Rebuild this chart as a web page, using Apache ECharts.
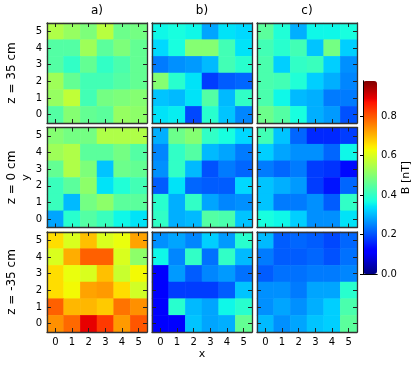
<!DOCTYPE html>
<html><head><meta charset="utf-8">
<script src="https://cdn.jsdelivr.net/npm/echarts@6/dist/echarts.min.js"></script>
<style>html,body{margin:0;padding:0;background:#fff}#c{width:415px;height:365px}</style>
</head><body><div id="c"></div>
<script>
const xCats = ['0','1','2','3','4','5'];
const yCats = ['0','1','2','3','4','5'];
const colTitles = ['a)', 'b)', 'c)'];
const rowLabels = ['z = 35 cm', 'z = 0 cm', 'z = -35 cm'];
const cbTicks = [0.0, 0.2, 0.4, 0.6, 0.8];
const cbMin = 0;
const cbMax = 0.977;
const cbLabel = 'B [nT]';
const xLabel = 'x';
const yLabel = 'y';

const z35_a = [
  [0.55,0.52,0.49,0.56,0.47,0.48],
  [0.44,0.44,0.53,0.45,0.49,0.46],
  [0.44,0.40,0.46,0.40,0.43,0.46],
  [0.53,0.46,0.42,0.42,0.44,0.46],
  [0.52,0.57,0.42,0.48,0.49,0.50],
  [0.44,0.50,0.46,0.45,0.52,0.51]
];
const z35_b = [
  [0.36,0.37,0.36,0.28,0.34,0.33],
  [0.33,0.37,0.50,0.50,0.42,0.34],
  [0.24,0.26,0.27,0.30,0.42,0.39],
  [0.50,0.39,0.34,0.18,0.21,0.22],
  [0.31,0.30,0.34,0.44,0.30,0.40],
  [0.34,0.35,0.19,0.39,0.31,0.25]
];
const z35_c = [
  [0.45,0.38,0.29,0.36,0.36,0.37],
  [0.42,0.39,0.42,0.31,0.48,0.32],
  [0.43,0.32,0.40,0.41,0.32,0.26],
  [0.43,0.42,0.38,0.32,0.29,0.25],
  [0.43,0.36,0.30,0.29,0.24,0.24],
  [0.47,0.44,0.37,0.29,0.27,0.20]
];
const z0_a = [
  [0.50,0.48,0.48,0.55,0.55,0.55],
  [0.53,0.55,0.45,0.45,0.48,0.44],
  [0.46,0.55,0.49,0.31,0.47,0.46],
  [0.41,0.45,0.51,0.34,0.38,0.42],
  [0.41,0.30,0.48,0.51,0.45,0.45],
  [0.28,0.39,0.44,0.41,0.36,0.34]
];
const z0_b = [
  [0.29,0.47,0.50,0.40,0.37,0.33],
  [0.25,0.40,0.44,0.30,0.28,0.24],
  [0.26,0.40,0.30,0.20,0.24,0.22],
  [0.21,0.34,0.22,0.21,0.21,0.33],
  [0.39,0.29,0.40,0.28,0.25,0.26],
  [0.40,0.29,0.30,0.44,0.43,0.31]
];
const z0_c = [
  [0.42,0.31,0.22,0.16,0.16,0.18],
  [0.32,0.28,0.26,0.26,0.22,0.36],
  [0.24,0.22,0.24,0.18,0.17,0.13],
  [0.31,0.29,0.27,0.18,0.14,0.22],
  [0.31,0.24,0.24,0.26,0.21,0.40],
  [0.37,0.36,0.32,0.26,0.26,0.34]
];
const zm35_a = [
  [0.66,0.60,0.69,0.60,0.62,0.72],
  [0.60,0.71,0.79,0.79,0.60,0.51],
  [0.66,0.62,0.60,0.69,0.58,0.63],
  [0.66,0.63,0.72,0.73,0.66,0.59],
  [0.79,0.70,0.70,0.68,0.77,0.74],
  [0.74,0.78,0.89,0.83,0.73,0.80]
];
const zm35_b = [
  [0.26,0.28,0.25,0.32,0.27,0.39],
  [0.36,0.25,0.40,0.23,0.40,0.30],
  [0.12,0.27,0.21,0.25,0.27,0.23],
  [0.12,0.18,0.18,0.18,0.21,0.31],
  [0.12,0.39,0.30,0.28,0.36,0.39],
  [0.11,0.11,0.31,0.28,0.29,0.46]
];
const zm35_c = [
  [0.30,0.21,0.22,0.21,0.19,0.22],
  [0.24,0.21,0.21,0.22,0.20,0.23],
  [0.21,0.23,0.23,0.24,0.24,0.25],
  [0.26,0.26,0.24,0.28,0.28,0.39],
  [0.26,0.28,0.26,0.29,0.32,0.43],
  [0.30,0.26,0.28,0.31,0.32,0.45]
];

const panels = [
  [z35_a, z35_b, z35_c],
  [z0_a, z0_b, z0_c],
  [zm35_a, zm35_b, zm35_c]
];

function seg(t, pts) {
  for (let i = 1; i < pts.length; i++) {
    if (t <= pts[i][0]) {
      const [x0, y0] = pts[i-1], [x1, y1] = pts[i];
      return y0 + (y1 - y0) * (t - x0) / (x1 - x0);
    }
  }
  return pts[pts.length-1][1];
}
function jet(t) {
  t = Math.max(0, Math.min(1, t));
  const r = seg(t, [[0,0],[0.35,0],[0.66,1],[0.89,1],[1,0.5]]);
  const g = seg(t, [[0,0],[0.125,0],[0.375,1],[0.64,1],[0.91,0],[1,0]]);
  const b = seg(t, [[0,0.5],[0.11,1],[0.34,1],[0.65,0],[1,0]]);
  return 'rgb(' + Math.round(r*255) + ',' + Math.round(g*255) + ',' + Math.round(b*255) + ')';
}
const jetColors = [];
for (let i = 0; i <= 100; i++) jetColors.push(jet(i / 100));

const FONT = 'DejaVu Sans';
const gridLeft0 = 47, gridTop0 = 23, cell = 100, stepX = 105, stepY = 104.5;

const grids = [], xAxes = [], yAxes = [], series = [], graphics = [];
const frameColor = '#333';
const tickStyle = { show: true, inside: true, length: 4, alignWithLabel: true, lineStyle: { color: '#222', width: 1 } };

for (let r = 0; r < 3; r++) {
  for (let c = 0; c < 3; c++) {
    const p = r * 3 + c;
    grids.push({ left: gridLeft0 + c * stepX, top: gridTop0 + r * stepY, width: cell, height: cell });
    const bottomRow = r === 2, leftCol = c === 0;
    xAxes.push({
      type: 'category', data: xCats, gridIndex: p, position: 'bottom', z: 10,
      axisLine: { show: true, lineStyle: { color: frameColor, width: 1.3 } },
      axisTick: tickStyle, splitLine: { show: false },
      axisLabel: { show: bottomRow, fontSize: 10, color: '#000', fontFamily: FONT, margin: 5 },
      name: (bottomRow && c === 1) ? xLabel : '', nameLocation: 'middle', nameGap: 17,
      nameTextStyle: { fontSize: 11, color: '#000', fontFamily: FONT }
    });
    xAxes.push({
      type: 'category', data: xCats, gridIndex: p, position: 'top', z: 10,
      axisLine: { show: true, lineStyle: { color: frameColor, width: 1.3 } },
      axisTick: tickStyle, axisLabel: { show: false }, splitLine: { show: false }
    });
    yAxes.push({
      type: 'category', data: yCats, gridIndex: p, position: 'left', z: 10,
      axisLine: { show: true, lineStyle: { color: frameColor, width: 1.3 } },
      axisTick: tickStyle, splitLine: { show: false },
      axisLabel: { show: leftCol, fontSize: 10, color: '#000', fontFamily: FONT, margin: 5 },
      name: (leftCol && r === 1) ? yLabel : '', nameLocation: 'middle', nameGap: 14, nameRotate: 90,
      nameTextStyle: { fontSize: 11, color: '#000', fontFamily: FONT }
    });
    yAxes.push({
      type: 'category', data: yCats, gridIndex: p, position: 'right', z: 10,
      axisLine: { show: true, lineStyle: { color: frameColor, width: 1.3 } },
      axisTick: tickStyle, axisLabel: { show: false }, splitLine: { show: false }
    });
    const arr = panels[r][c];
    const data = [];
    for (let i = 0; i < 6; i++) for (let j = 0; j < 6; j++) {
      const v = arr[i][j];
      data.push({ value: [j, 5 - i, v], itemStyle: { color: jet((v - cbMin) / (cbMax - cbMin)) } });
    }
    series.push({
      type: 'heatmap', xAxisIndex: 2 * p, yAxisIndex: 2 * p, data: data,
      itemStyle: { borderWidth: 0, opacity: 1 }, emphasis: { disabled: true }, progressive: 0
    });
  }
}

const cbLeft = 363, cbTop = 81, cbW = 14, cbH = 193;
grids.push({ left: cbLeft, top: cbTop, width: cbW, height: cbH });
xAxes.push({ type: 'value', gridIndex: 9, min: 0, max: 1, show: true, position: 'bottom', z: 10,
  axisLine: { show: true, lineStyle: { color: '#000', width: 1 } }, axisTick: { show: false }, axisLabel: { show: false }, splitLine: { show: false } });
xAxes.push({ type: 'value', gridIndex: 9, min: 0, max: 1, show: true, position: 'top', z: 10,
  axisLine: { show: true, lineStyle: { color: '#000', width: 1 } }, axisTick: { show: false }, axisLabel: { show: false }, splitLine: { show: false } });
yAxes.push({ type: 'value', gridIndex: 9, min: cbMin, max: cbMax, position: 'right', z: 10,
  axisLine: { show: true, lineStyle: { color: '#000', width: 1 } },
  axisTick: { show: true, inside: true, length: 3, lineStyle: { color: '#000' }, customValues: cbTicks },
  axisLabel: { show: true, fontSize: 10, color: '#000', fontFamily: FONT, margin: 4, customValues: cbTicks, formatter: v => v.toFixed(1) },
  splitLine: { show: false },
  name: cbLabel, nameLocation: 'middle', nameGap: 16, nameRotate: 90,
  nameTextStyle: { fontSize: 11, color: '#000', fontFamily: FONT } });
yAxes.push({ type: 'value', gridIndex: 9, min: cbMin, max: cbMax, position: 'left', z: 10,
  axisLine: { show: true, lineStyle: { color: '#000', width: 1 } }, axisTick: { show: false }, axisLabel: { show: false }, splitLine: { show: false } });

for (let c = 0; c < 3; c++) {
  graphics.push({ type: 'text', x: gridLeft0 + c * stepX + cell / 2, y: 11, z: 20,
    style: { text: colTitles[c], fontSize: 12, fontFamily: FONT, fill: '#000', align: 'center', verticalAlign: 'middle' } });
}
for (let r = 0; r < 3; r++) {
  graphics.push({ type: 'text', x: 12, y: gridTop0 + r * stepY + cell / 2, rotation: Math.PI / 2, z: 20,
    style: { text: rowLabels[r], fontSize: 12, fontFamily: FONT, fill: '#000', align: 'center', verticalAlign: 'middle' } });
}

const chart = echarts.init(document.getElementById('c'), null, { renderer: 'canvas' });
chart.setOption({
  animation: false,
  backgroundColor: '#fff',
  textStyle: { fontFamily: FONT },
  grid: grids,
  xAxis: xAxes,
  yAxis: yAxes,
  visualMap: {
    type: 'continuous', min: cbMin, max: cbMax, seriesIndex: [],
    inRange: { color: jetColors },
    left: cbLeft, top: cbTop, itemWidth: cbW, itemHeight: cbH, padding: 0,
    calculable: false, text: ['', ''], showLabel: false, hoverLink: false, z: 4
  },
  graphic: graphics,
  series: series
});
</script>
</body></html>
